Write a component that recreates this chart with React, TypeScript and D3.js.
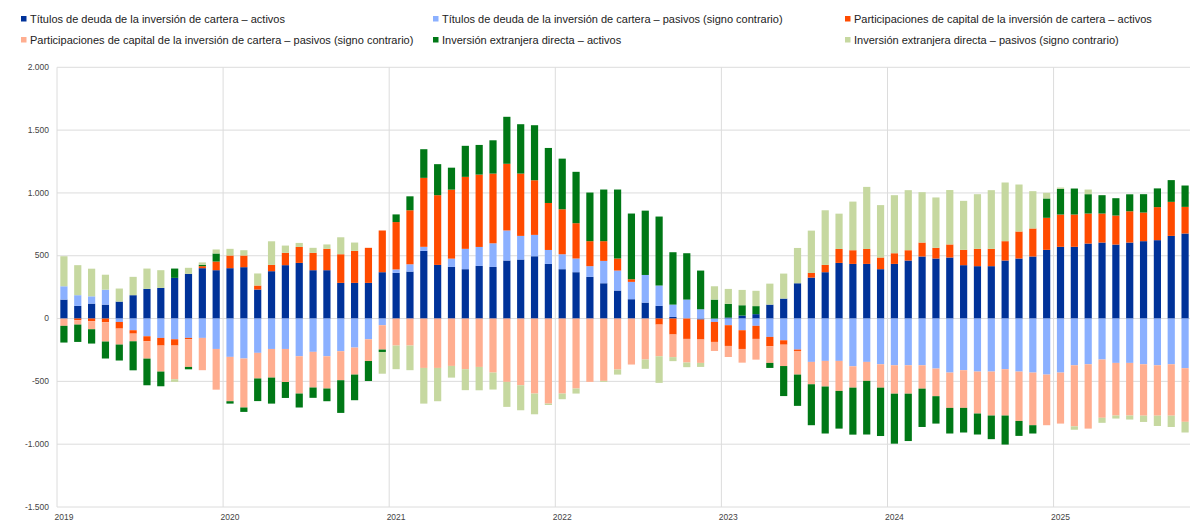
import React from 'react';
import * as d3 from 'd3';

// monthly, Jan 2019 - Oct 2025 (EUR bn, 12-month sums)
const years = ['2019', '2020', '2021', '2022', '2023', '2024', '2025'];
const months = d3.timeMonths(new Date(2019, 0, 1), new Date(2025, 10, 1));

const debtAssets = [151, 101, 119, 111, 135, 186, 236, 244, 324, 356, 401, 385,
    401, 409, 231, 377, 425, 443, 385, 385, 284, 284, 284, 369,
    364, 374, 539, 427, 411, 393, 419, 411, 462, 470, 496, 435,
    393, 369, 332, 281, 223, 154, 127, 101, 13, 0, -8, 0,
    8, 24, 35, 111, 159, 281, 326, 369, 443, 435, 435, 393,
    435, 462, 494, 478, 486, 425, 417, 417, 462, 478, 494, 547,
    571, 571, 597, 605, 589, 605, 616, 624, 658, 677];
const debtLiabs = [106, 85, 58, 119, -27, -93, -141, -154, -165, -154, -154, -242,
    -305, -318, -273, -242, -242, -300, -265, -300, -260, -231, -165, -53,
    27, 58, 32, 0, 66, 162, 151, 188, 239, 188, 170, 111,
    119, 109, 85, 178, 159, 138, 220, 162, 98, 151, 74, -27,
    -53, -93, -58, -146, -173, -247, -345, -337, -337, -380, -345, -364,
    -372, -372, -372, -398, -430, -411, -422, -422, -403, -422, -430, -446,
    -430, -372, -364, -326, -353, -353, -364, -372, -364, -395];
const equityAssets = [0, -13, -21, -29, -53, -27, -40, -61, -50, -11, 16, 69,
    101, 93, 32, 50, 98, 127, 138, 170, 228, 255, 279, 332,
    377, 430, 549, 555, 549, 573, 576, 555, 531, 496, 435, 374,
    358, 281, 199, 157, 96, 21, 0, -48, -127, -162, -159, -159,
    -165, -149, -104, -74, -35, -11, 37, 58, 111, 109, 119, 93,
    85, 82, 111, 85, 104, 122, 138, 138, 154, 215, 223, 255,
    257, 257, 239, 231, 231, 249, 228, 263, 271, 212];
const equityLiabs = [-58, -35, -64, -154, -127, -61, -138, -207, -268, -220, -257, -324,
    -353, -390, -204, -228, -263, -297, -284, -257, -231, -215, -173, -194,
    -215, -215, -393, -393, -377, -403, -385, -430, -504, -531, -597, -677,
    -597, -557, -504, -496, -406, -366, -326, -252, -180, -188, -186, -72,
    -88, -109, -165, -133, -170, -188, -178, -204, -239, -170, -151, -186,
    -226, -226, -186, -220, -281, -300, -334, -350, -369, -393, -419, -403,
    -406, -486, -512, -464, -419, -419, -409, -401, -409, -427];
const fdiAssets = [-133, -138, -114, -135, -127, -231, -212, -117, 74, -19, 11, 64,
    -19, -35, -180, -207, -127, -111, -82, -101, -260, -204, -159, -19,
    61, 111, 228, 247, 175, 247, 236, 265, 374, 393, 438, 438,
    403, 409, 387, 411, 549, 523, 512, 549, 417, 369, 308, 151,
    109, 82, 64, -40, -239, -249, -326, -374, -300, -374, -427, -385,
    -398, -377, -305, -218, -204, -196, -167, -188, -231, -119, -66, 154,
    204, 207, 154, 146, 138, 135, 146, 149, 173, 170];
const fdiLiabs = [239, 239, 220, 119, 104, 146, 162, 141, -21, 48, 19, 32,
    53, 42, 96, 188, 58, 32, 40, 35, 135, 66, 0, -173,
    -188, -196, -284, -265, -93, -167, -186, -135, -199, -199, -165, -11,
    -45, -40, 0, -8, -40, 0, -74, -212, -32, -37, -32, 106,
    119, 122, 122, 167, 199, 281, 337, 435, 281, 387, 494, 417,
    462, 478, 401, 401, 433, 390, 435, 467, 467, 374, 297, 45,
    11, -27, 37, -40, -24, -32, -50, -82, -90, -85];

const yTicks = [-1500, -1000, -500, 0, 500, 1000, 1500, 2000];

const series = [
    {key: 'debtAssets', label: 'Títulos de deuda de la inversión de cartera – activos', color: '#003299', values: debtAssets},
    {key: 'debtLiabs', label: 'Títulos de deuda de la inversión de cartera – pasivos (signo contrario)', color: '#8bb0ff', values: debtLiabs},
    {key: 'equityAssets', label: 'Participaciones de capital de la inversión de cartera – activos', color: '#ff4b00', values: equityAssets},
    {key: 'equityLiabs', label: 'Participaciones de capital de la inversión de cartera – pasivos (signo contrario)', color: '#ffae90', values: equityLiabs},
    {key: 'fdiAssets', label: 'Inversión extranjera directa – activos', color: '#007816', values: fdiAssets},
    {key: 'fdiLiabs', label: 'Inversión extranjera directa – pasivos (signo contrario)', color: '#c6d8a0', values: fdiLiabs}
];

const es = d3.formatLocale({decimal: ',', thousands: '.', grouping: [3], currency: ['', ' €'], minus: '-'});
const fmt = es.format(',d');

export default function App() {
    const width = 1190;
    const height = 520;
    const x0 = 57, x1 = 1192, yTop = 67.3, yBot = 507;
    const font = '"Liberation Sans", Arial, sans-serif';

    const rows = months.map((m, i) => {
        const r: any = {i};
        series.forEach(s => { r[s.key] = s.values[i]; });
        return r;
    });
    const stacked = d3.stack().keys(series.map(s => s.key)).offset(d3.stackOffsetDiverging)(rows);

    const x = d3.scaleBand<number>()
        .domain(rows.map(r => r.i))
        .range([x0, x1])
        .paddingInner(0.48)
        .paddingOuter(0.24);
    const y = d3.scaleLinear().domain([-1500, 2000]).range([yBot, yTop]);
    const gap = (x.step() - x.bandwidth()) / 2;

    const janIdx = years.map(yr => months.findIndex(m => m.getFullYear() === +yr && m.getMonth() === 0));

    const legendX = [21, 433, 845];
    const legendY = [19, 40];

    return (
        <svg width={width} height={height} style={{position: 'absolute', left: 0, top: 0, background: '#fff'}}>
            <g>
                {series.map((s, k) => {
                    const lx = legendX[k % 3], ly = legendY[Math.floor(k / 3)];
                    return (
                        <g key={s.key}>
                            <rect x={lx} y={ly - 3} width={5.5} height={5.5} fill={s.color}/>
                            <text x={lx + 9} y={ly} dy="0.35em" fontFamily={font} fontSize="11px" fill="#222">{s.label}</text>
                        </g>
                    );
                })}
            </g>
            <g>
                {yTicks.map(t => (
                    <g key={t}>
                        <line x1={x0} x2={width} y1={y(t)} y2={y(t)} stroke="#dcdcdc" strokeWidth={1}/>
                        <text x={49} y={y(t)} dy="0.32em" textAnchor="end" fontFamily={font} fontSize="8.5px" fill="#444">{fmt(t)}</text>
                    </g>
                ))}
                <line x1={x0} x2={x0} y1={yTop} y2={yBot} stroke="#dcdcdc"/>
                {janIdx.map((j, k) => (
                    <g key={years[k]}>
                        {k > 0 && <line x1={x(j) - gap} x2={x(j) - gap} y1={yTop} y2={yBot} stroke="#dcdcdc"/>}
                        <text x={x(j) + x.bandwidth() / 2} y={519.5} textAnchor="middle" fontFamily={font} fontSize="8.5px" fill="#444">{years[k]}</text>
                    </g>
                ))}
            </g>
            <g>
                {stacked.map((layer, k) => (
                    <g key={layer.key} fill={series[k].color}>
                        {layer.map((d: any) => d[1] === d[0] ? null : (
                            <rect key={d.data.i} x={x(d.data.i)} width={x.bandwidth()}
                                  y={y(Math.max(d[0], d[1]))}
                                  height={Math.abs(y(d[0]) - y(d[1]))}/>
                        ))}
                    </g>
                ))}
            </g>
        </svg>
    );
}
